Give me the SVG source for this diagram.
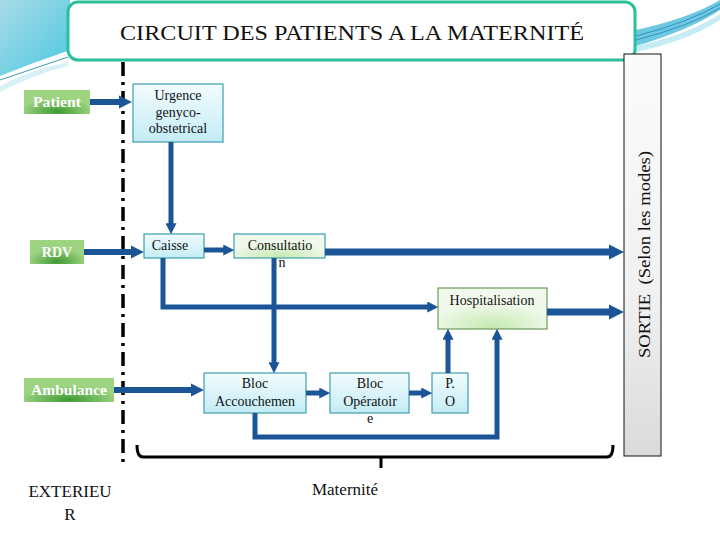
<svg xmlns="http://www.w3.org/2000/svg" width="720" height="540" viewBox="0 0 720 540">
<defs>
<linearGradient id="gCyan" x1="0" y1="0" x2="0" y2="1"><stop offset="0" stop-color="#f2fcfe"/><stop offset="1" stop-color="#c4ecf5"/></linearGradient>
<radialGradient id="gHosp" cx="0.5" cy="0.95" r="0.6"><stop offset="0" stop-color="#c5eab0"/><stop offset="1" stop-color="#f1f9ec"/></radialGradient>
<radialGradient id="gGreen" cx="0.5" cy="0.9" r="0.55"><stop offset="0" stop-color="#3f9a32"/><stop offset="1" stop-color="#9dd482"/></radialGradient>
<linearGradient id="gGrey" x1="0" y1="0" x2="0" y2="1"><stop offset="0" stop-color="#fbfbfb"/><stop offset="0.6" stop-color="#f1f1f1"/><stop offset="1" stop-color="#dadada"/></linearGradient>
<linearGradient id="gSky" x1="0" y1="0" x2="1" y2="1"><stop offset="0" stop-color="#a8dbe8"/><stop offset="1" stop-color="#4cc8e0"/></linearGradient>
<marker id="ah" viewBox="0 0 4 4" refX="1" refY="2" markerWidth="2.2" markerHeight="2.2" orient="auto"><path d="M0,0 L4,2 L0,4 Z" fill="#1b5597"/></marker>
</defs>
<style>
text{font-family:'Liberation Serif','DejaVu Serif',serif}
.lbl{font-size:14px;fill:#111;text-anchor:middle}
.gl{font-size:14px;fill:#fff;text-anchor:middle;font-weight:bold}
.big{font-size:17px;fill:#111;text-anchor:middle}
.box{fill:url(#gCyan);stroke:#3c9fae;stroke-width:1.2}
.green{fill:url(#gGreen)}
.c{fill:none;stroke:#1b5597;stroke-linejoin:miter}
.a{marker-end:url(#ah)}
</style>
<rect width="720" height="540" fill="#ffffff"/>
<g id="background">
<path d="M0,0 H70 V50 Q35,62 0,76 Z" fill="url(#gSky)"/>
<path d="M0,80 L68,57" stroke="#3aa0b4" stroke-width="1" fill="none"/>
<path d="M0,86 Q30,70 68,62 L68,66 Q30,76 0,92 Z" fill="#d8f1f6"/>
<path d="M636,30 Q690,18 720,0 L720,10 Q690,30 636,46 Z" fill="#6cc9df"/>
<path d="M636,36 Q690,22 720,4" stroke="#2a7fc0" stroke-width="0.8" fill="none"/>
<path d="M636,40 Q690,26 720,8" stroke="#2a7fc0" stroke-width="0.8" fill="none"/>
<path d="M636,46 Q690,34 720,14 L720,20 Q690,40 636,52 Z" fill="#c5ebf4"/>
</g>
<g id="title">
<rect x="68" y="2" width="567" height="58" rx="10" fill="#ffffff" stroke="#2bbf9a" stroke-width="3"/>
<text x="352" y="40" font-size="22" text-anchor="middle" fill="#111" textLength="464" lengthAdjust="spacingAndGlyphs">CIRCUIT DES PATIENTS A LA MATERNITÉ</text>
</g>
<g id="sortie">
<rect x="624" y="54" width="37" height="402" fill="url(#gGrey)" stroke="#111" stroke-width="1"/>
<text transform="translate(650,358) rotate(-90)" font-size="16" fill="#111" textLength="207" lengthAdjust="spacingAndGlyphs" xml:space="preserve">SORTIE  (Selon les modes)</text>
</g>
<g id="boundary">
<line x1="123" y1="62" x2="123" y2="467" stroke="#000" stroke-width="3.5" stroke-dasharray="14,6,3,6"/>
</g>
<g id="patient"><rect class="green" x="24" y="90" width="66" height="24"/><text class="gl" x="57" y="107" textLength="48" lengthAdjust="spacingAndGlyphs">Patient</text></g>
<g id="rdv"><rect class="green" x="30" y="240" width="54" height="24"/><text class="gl" x="57" y="257">RDV</text></g>
<g id="ambulance"><rect class="green" x="24" y="378" width="90" height="24"/><text class="gl" x="69" y="395" textLength="76" lengthAdjust="spacingAndGlyphs">Ambulance</text></g>
<g id="urgence"><rect class="box" x="133" y="84" width="90" height="58"/><text class="lbl" x="178" y="100">Urgence</text><text class="lbl" x="178" y="117">genyco-</text><text class="lbl" x="178" y="133">obstetrical</text></g>
<g id="caisse"><rect class="box" x="144" y="234" width="60" height="24"/><text class="lbl" x="170" y="250">Caisse</text></g>
<g id="consultation"><rect class="box" x="234" y="234" width="91" height="24" style="fill:url(#gHosp)"/><text class="lbl" x="280" y="250">Consultatio</text><text class="lbl" x="282" y="267">n</text></g>
<g id="hospitalisation"><rect x="438" y="288" width="109" height="41" fill="url(#gHosp)" stroke="#6d9a5c" stroke-width="1.2"/><text class="lbl" x="492" y="305">Hospitalisation</text></g>
<g id="bloc-accouchement"><rect class="box" x="204" y="373" width="102" height="40"/><text class="lbl" x="255" y="388">Bloc</text><text class="lbl" x="255" y="406">Accouchemen</text><text class="lbl" x="255" y="423">t</text></g>
<g id="bloc-operatoire"><rect class="box" x="330" y="373" width="79" height="40"/><text class="lbl" x="370" y="388">Bloc</text><text class="lbl" x="370" y="406">Opératoir</text><text class="lbl" x="370" y="423">e</text></g>
<g id="po"><rect class="box" x="432" y="373" width="36" height="40"/><text class="lbl" x="450" y="388">P.</text><text class="lbl" x="450" y="406">O</text></g>
<g id="connectors">
<line class="c a" x1="90" y1="102" x2="122" y2="102" stroke-width="6"/>
<line class="c a" x1="84" y1="252" x2="134" y2="252" stroke-width="6"/>
<line class="c a" x1="171" y1="142" x2="171" y2="226" stroke-width="5"/>
<line class="c a" x1="204" y1="250" x2="226" y2="250" stroke-width="5"/>
<line class="c a" x1="325" y1="252" x2="612.5" y2="252" stroke-width="7"/>
<path class="c a" d="M163,258 V307 H430" stroke-width="5"/>
<line class="c a" x1="274" y1="258" x2="274" y2="365" stroke-width="5"/>
<line class="c a" x1="547" y1="312" x2="612.5" y2="312" stroke-width="7"/>
<line class="c a" x1="114" y1="390" x2="194" y2="390" stroke-width="6"/>
<line class="c a" x1="306" y1="393" x2="322" y2="393" stroke-width="5"/>
<line class="c a" x1="409" y1="393" x2="424" y2="393" stroke-width="5"/>
<line class="c a" x1="448" y1="373" x2="448" y2="337" stroke-width="5"/>
<path class="c a" d="M255,413 V437 H497 V337" stroke-width="5"/>
</g>
<g id="maternite-bracket">
<path d="M137,445 Q137,457 143,457 H607 Q613,457 613,445" fill="none" stroke="#000" stroke-width="3"/>
<line x1="381" y1="457" x2="381" y2="468" stroke="#000" stroke-width="3"/>
<text class="big" x="345" y="495">Maternité</text>
</g>
<g id="exterieur">
<text class="big" x="70" y="497" font-size="18">EXTERIEU</text>
<text class="big" x="70" y="520" font-size="18">R</text>
</g>
</svg>
